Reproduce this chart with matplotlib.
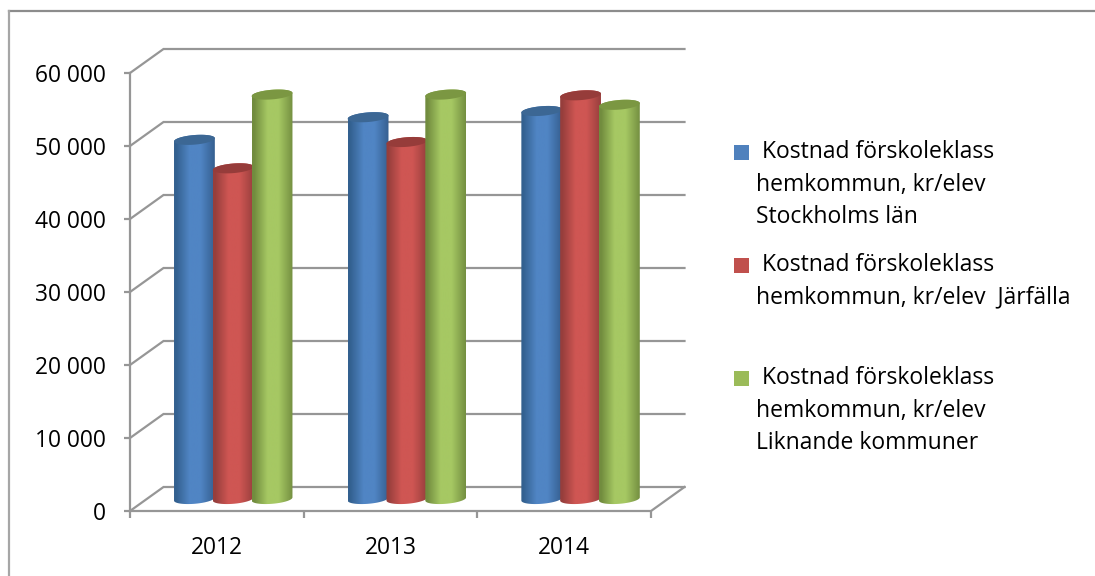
import numpy as np
import matplotlib
matplotlib.use("Agg")
import matplotlib.pyplot as plt
from matplotlib.colors import LinearSegmentedColormap
from matplotlib.patches import Polygon, Rectangle

years = ["2012", "2013", "2014"]
stockholm = [49200, 52300, 53150]
jarfalla = [45300, 48900, 55300]
liknande = [55400, 55400, 54000]
series_values = [stockholm, jarfalla, liknande]
ytick_values = [0, 10000, 20000, 30000, 40000, 50000, 60000]
ytick_labels = ["0", "10 000", "20 000", "30 000", "40 000", "50 000", "60 000"]
legend_lines = [
    [" Kostnad förskoleklass", "hemkommun, kr/elev", "Stockholms län"],
    [" Kostnad förskoleklass", "hemkommun, kr/elev  Järfälla"],
    [" Kostnad förskoleklass", "hemkommun, kr/elev", "Liknande kommuner"],
]
shades = [
    ("#33608f", "#5085c4", "#355f90", "#3c6794"),
    ("#963e3c", "#cf5653", "#983f3d", "#963c3a"),
    ("#718c3e", "#a6c863", "#748f41", "#7b9742"),
]
legend_colors = ["#4f81bd", "#c0504d", "#9bbb59"]

W, H = 1095, 576
GRID = "#969696"
FONT = "Open Sans"
fig = plt.figure(figsize=(W / 100, H / 100), dpi=100, facecolor="white")

# Full-figure pixel overlay for the frame and legend
ov = fig.add_axes([0, 0, 1, 1])
ov.set_xlim(0, W)
ov.set_ylim(H, 0)
ov.axis("off")
ov.plot([9, W], [11, 11], color="#8c8c8c", lw=1.6, clip_on=False)
ov.plot([9, 9], [11, H], color="#a6a6a6", lw=1.6, clip_on=False)

# Front plane of the plot: x in category units, y in value units
x0, x1, y0, y1 = 130, 651, 511, 73
ax = fig.add_axes([x0 / W, 1 - y0 / H, (x1 - x0) / W, (y0 - y1) / H])
ax.set_xlim(0, 3)
ax.set_ylim(0, 60000)
ax.patch.set_alpha(0)
for s in ax.spines.values():
    s.set_visible(False)

ddx = 33.5 / ((x1 - x0) / 3)     # depth shift, categories
ddy = 24 / (y0 - y1) * 60000     # depth shift, value units
lw = 1.6

# Walls
for v in ytick_values:
    ax.plot([0, ddx, 3 + ddx], [v, v + ddy, v + ddy], color=GRID, lw=lw, clip_on=False,
            solid_joinstyle="miter", zorder=1)
ax.plot([0, 0], [0, 60000], color=GRID, lw=lw, clip_on=False, zorder=1)
ax.plot([0, 3, 3 + ddx], [0, 0, ddy], color=GRID, lw=lw, clip_on=False, zorder=1)

# Cylinders
bar_w = 0.235
step = 0.2235
ell_h = 4.8 / (y0 - y1) * 60000
tilt = 1.6 / (y0 - y1) * 60000
t = np.linspace(0, 2 * np.pi, 121)
z = 3
for i in range(3):
    for j, vals in enumerate(series_values):
        cx = i + 0.5 + ddx / 2 + (j - 1) * step - 0.002
        base, top = ddy / 2, vals[i] + ddy / 2
        a = bar_w / 2
        ex = cx + a * np.cos(t)
        ey = top + ell_h * np.sin(t) + tilt * np.cos(t)
        lower = t[60:121]   # bottom half, left to right
        bx = cx + a * np.cos(lower)
        by = base + ell_h * np.sin(lower) + tilt * np.cos(lower)
        ux = cx + a * np.cos(t[:61])
        uy = top + ell_h * np.sin(t[:61]) + tilt * np.cos(t[:61])
        poly = np.column_stack([np.r_[bx, ux], np.r_[by, uy]])
        dark, light, dark2, cap = shades[j]
        cmap = LinearSegmentedColormap.from_list(
            "c", [(0, dark), (0.05, dark), (0.38, light), (0.65, light), (1, dark2)])
        im = ax.imshow(np.linspace(0, 1, 200)[None, :], cmap=cmap, aspect="auto",
                       extent=[cx - a, cx + a, base - ell_h * 1.3, top + ell_h * 1.3],
                       interpolation="bilinear", zorder=z)
        clip = Polygon(poly, closed=True, transform=ax.transData, fc="none", ec="none")
        ax.add_patch(clip)
        im.set_clip_path(clip)
        im.set_clip_on(True)
        ax.add_patch(Polygon(np.column_stack([ex, ey]), closed=True, fc=cap, ec="none",
                             zorder=z + 0.5, clip_on=False))
        z += 1
ax.set_xlim(0, 3)
ax.set_ylim(0, 60000)

# Ticks and labels
ax.set_yticks(ytick_values)
ax.set_yticklabels(ytick_labels, fontsize=16.4, fontfamily=FONT, color="#000000")
ax.set_xticks([0, 1, 2, 3])
ax.set_xticklabels([])
ax.set_xticks([0.5, 1.5, 2.5], labels=years, minor=True, fontsize=16.4, fontfamily=FONT, color="#000000")
ax.tick_params(axis="y", length=4.5, width=lw, color=GRID, pad=13)
ax.tick_params(axis="x", which="major", length=5, width=lw, color=GRID)
ax.tick_params(axis="x", which="minor", length=0, pad=18)

# Legend
swatch_y = [152, 265, 378]
line_h = 32.5
for c, sy, lines in zip(legend_colors, swatch_y, legend_lines):
    ov.add_patch(Rectangle((734, sy - 7.5), 15, 15, fc=c, ec="none"))
    for k, line in enumerate(lines):
        xt = 762 if k == 0 else 756
        ov.text(xt, sy + k * line_h, line.strip(), fontsize=16.5, fontfamily=FONT, color="#000000",
                va="center", ha="left")

fig.savefig("out.png", dpi=100, facecolor="white")
